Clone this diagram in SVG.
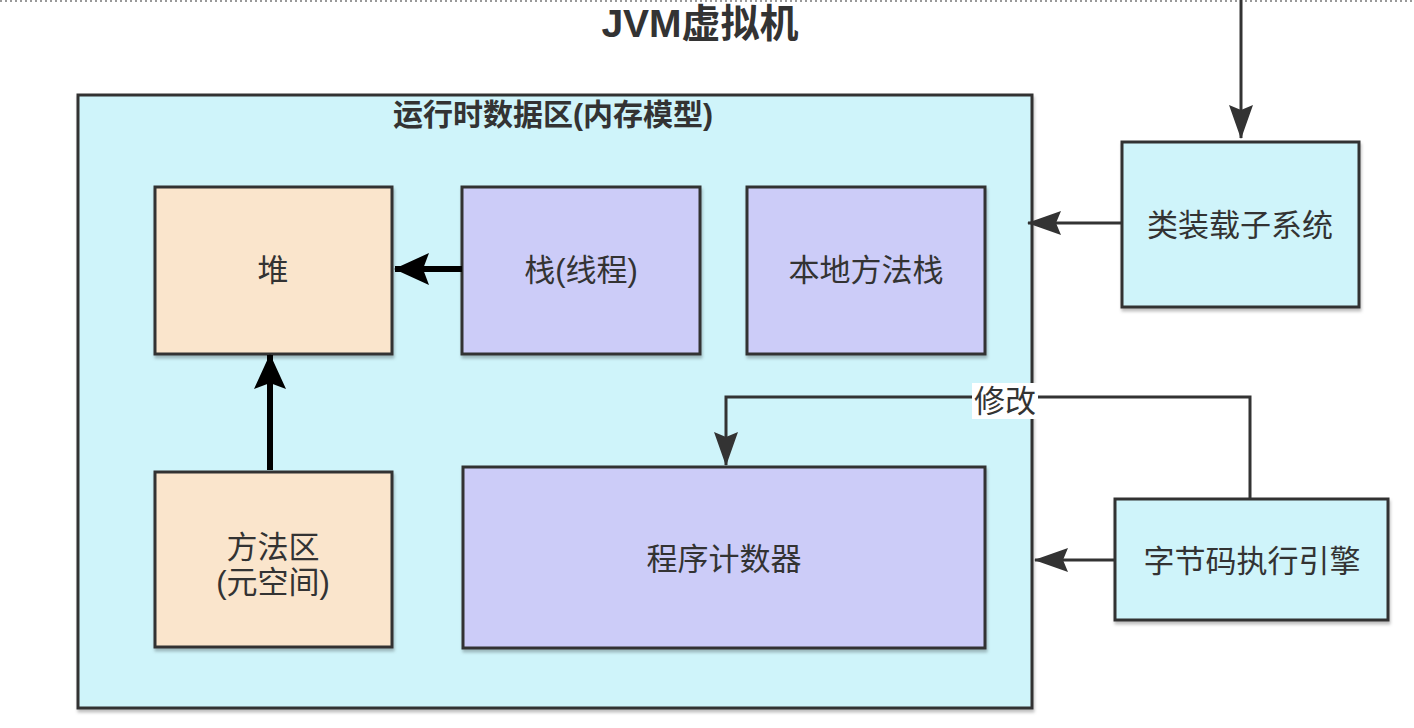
<svg xmlns="http://www.w3.org/2000/svg" width="1414" height="728" viewBox="0 0 1414 728">
<style>
.box{stroke:#333;stroke-width:3}
.cyan{fill:#cff4fa}
.peach{fill:#fae5cc}
.lav{fill:#ccccf8}
.t{font-family:"Liberation Sans","Noto Sans CJK SC",sans-serif;font-size:31px;fill:#333;text-anchor:middle}
.b{font-weight:bold}
.ln{fill:none;stroke:#333;stroke-width:3}
.thick{fill:none;stroke:#000;stroke-width:6}
</style>
<defs>
<marker id="ah" markerWidth="34" markerHeight="24" refX="33" refY="12" orient="auto" markerUnits="userSpaceOnUse" viewBox="0 0 34 24"><path d="M0,0 L34,12 L0,24 L5,12 Z" fill="#333"/></marker>
<marker id="ahk" markerWidth="35" markerHeight="32" refX="34" refY="16" orient="auto" markerUnits="userSpaceOnUse" viewBox="0 0 35 32"><path d="M0,0 L35,16 L0,32 L6,16 Z" fill="#000"/></marker>
<filter id="sh" x="-5%" y="-5%" width="110%" height="115%"><feDropShadow dx="1" dy="3" stdDeviation="1.5" flood-color="#000" flood-opacity="0.25"/></filter>
</defs>
<rect width="1414" height="728" fill="#fff"/>
<line x1="0" y1="1" x2="1414" y2="1" stroke="#999" stroke-width="2" stroke-dasharray="2,3"/>
<text class="t b" x="700" y="37" style="font-size:39px">JVM虚拟机</text>

<g id="runtime-area">
<rect class="box cyan" x="78" y="95" width="954" height="613" filter="url(#sh)"/>
<text class="t b" x="553" y="125" style="font-size:30px">运行时数据区(内存模型)</text>
</g>
<g id="heap">
<rect class="box peach" x="155" y="187" width="237" height="167" filter="url(#sh)"/>
<text class="t" x="273" y="281">堆</text>
</g>
<g id="stack">
<rect class="box lav" x="462" y="187" width="238" height="167" filter="url(#sh)"/>
<text class="t" x="581" y="281">栈(线程)</text>
</g>
<g id="native-stack">
<rect class="box lav" x="747" y="187" width="238" height="167" filter="url(#sh)"/>
<text class="t" x="866" y="281">本地方法栈</text>
</g>
<g id="method-area">
<rect class="box peach" x="155" y="472" width="237" height="175" filter="url(#sh)"/>
<text class="t" x="273" y="558">方法区</text>
<text class="t" x="273" y="593">(元空间)</text>
</g>
<g id="pc">
<rect class="box lav" x="463" y="467" width="522" height="181" filter="url(#sh)"/>
<text class="t" x="724" y="570">程序计数器</text>
</g>
<g id="classloader">
<rect class="box cyan" x="1122" y="142" width="237" height="165" filter="url(#sh)"/>
<text class="t" x="1240" y="236">类装载子系统</text>
</g>
<g id="engine">
<rect class="box cyan" x="1115" y="499" width="273" height="121" filter="url(#sh)"/>
<text class="t" x="1252" y="572">字节码执行引擎</text>
</g>

<g id="connectors">
<line class="thick" x1="462" y1="269" x2="395" y2="269" marker-end="url(#ahk)"/>
<line class="thick" x1="270" y1="470" x2="270" y2="355" marker-end="url(#ahk)"/>
<line class="ln" x1="1241" y1="0" x2="1241" y2="138" marker-end="url(#ah)"/>
<line class="ln" x1="1121" y1="223" x2="1028" y2="223" marker-end="url(#ah)"/>
<line class="ln" x1="1114" y1="560" x2="1035" y2="560" marker-end="url(#ah)"/>
<polyline class="ln" points="1250,498 1250,397 726,397 726,465" marker-end="url(#ah)"/>
<rect x="972" y="383" width="66" height="36" fill="#fff"/>
<text class="t" x="1005" y="412">修改</text>
</g>
</svg>
